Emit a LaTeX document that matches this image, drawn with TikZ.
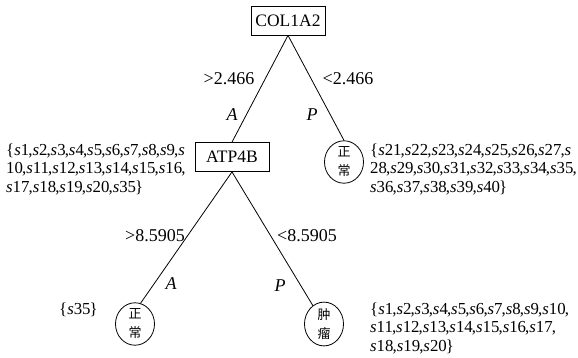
\documentclass[tikz,border=0pt]{standalone}
\usepackage{fontspec}
\setmainfont{Liberation Serif}
\newfontfamily\cjk{Noto Sans CJK SC}
\usetikzlibrary{shapes.geometric}
\newcommand\sv[1]{\textit{s}#1\kern-0.9pt}
\begin{document}
\begin{tikzpicture}[x=1pt,y=-1pt,
  feat/.style={draw, line width=0.8pt, minimum width=74pt, minimum height=29pt, inner sep=0pt, font=\fontsize{17.5}{20}\selectfont},
  leaf/.style={draw, ellipse, line width=0.8pt, minimum width=39pt, minimum height=41pt, inner sep=0pt, align=center, font=\cjk\fontsize{13}{19}\selectfont},
  lbl/.style={font=\fontsize{18}{20}\selectfont, inner sep=0pt},
  brlbl/.style={font=\fontsize{18}{20}\selectfont\itshape, inner sep=0pt},
  settext/.style={font=\fontsize{16.8}{18.5}\selectfont, align=left, inner sep=0pt},
  edge/.style={line width=0.8pt}]
\useasboundingbox[fill=white] (0,0) rectangle (578,357);

\node[feat] (col) at (288,20.5) {COL1A2};
\node[feat] (atp) at (232,157) {ATP4B};
\node[leaf] (trc) at (344,162) {正\\常};
\node[leaf] (blc) at (135,324) {正\\常};
\node[leaf] (brc) at (324,324) {肿\\瘤};

\draw[edge] (col.south) -- (atp.north);
\draw[edge] (col.south) -- (trc.north);
\draw[edge] (atp.south) -- (blc.75);
\draw[edge] (atp.south) -- (brc);

\node[lbl] (l1) at (229,79) {>2.466};
\node[lbl] (l2) at (348,79) {<2.466};
\node[brlbl] (a1) at (232,115) {A};
\node[brlbl] (p1) at (312,115) {P};
\node[lbl] (l3) at (155,236) {>8.5905};
\node[lbl] (l4) at (307,236) {<8.5905};
\node[brlbl] (a2) at (171,284) {A};
\node[brlbl] (p2) at (280,286) {P};

\node[settext, anchor=north west] (s1) at (6,143.5)
  {\{\sv1,\sv2,\sv3,\sv4,\sv5,\sv6,\sv7,\sv8,\sv9,\textit{s}\\10\kern-0.9pt,\sv{11},\sv{12},\sv{13},\sv{14},\sv{15},\sv{16},\\\sv{17},\sv{18},\sv{19},\sv{20},\sv{35}\}};
\node[settext, anchor=north west] (s2) at (370,143.5)
  {\{\sv{21},\sv{22},\sv{23},\sv{24},\sv{25},\sv{26},\sv{27},\textit{s}\\28\kern-0.9pt,\sv{29},\sv{30},\sv{31},\sv{32},\sv{33},\sv{34},\sv{35},\\\sv{36},\sv{37},\sv{38},\sv{39},\sv{40}\}};
\node[settext, anchor=north east] (s3) at (98,302.5) {\{\sv{35}\}};
\node[settext, anchor=north west] (s4) at (370,302.5)
  {\{\sv1,\sv2,\sv3,\sv4,\sv5,\sv6,\sv7,\sv8,\sv9,\sv{10},\\\sv{11},\sv{12},\sv{13},\sv{14},\sv{15},\sv{16},\sv{17},\\\sv{18},\sv{19},\sv{20}\}};
\end{tikzpicture}
\end{document}
